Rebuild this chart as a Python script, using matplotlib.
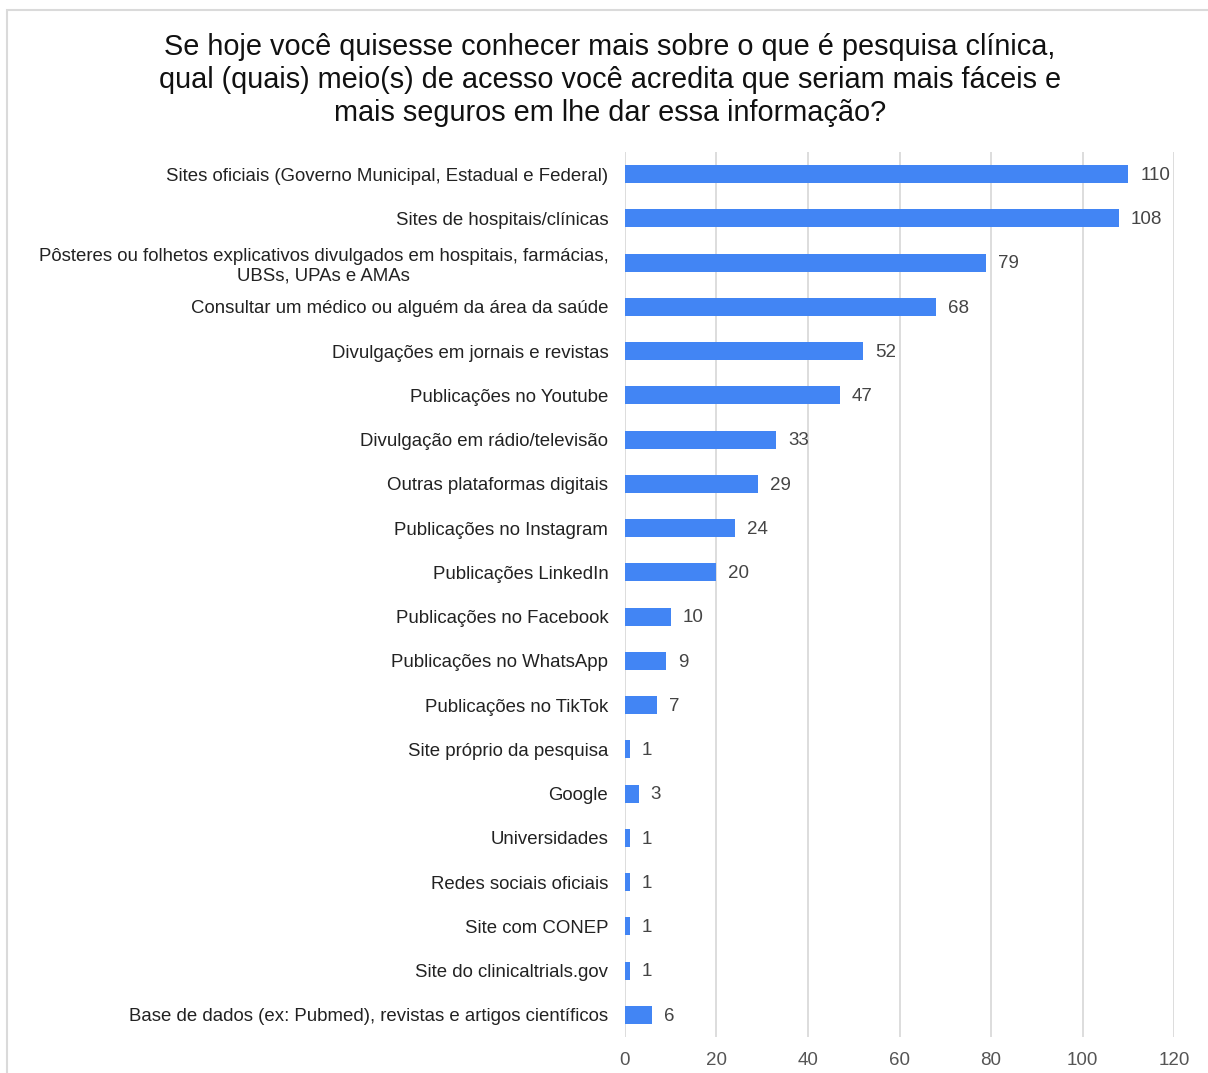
import matplotlib.pyplot as plt
from matplotlib.patches import Rectangle

plt.rcParams['font.family'] = ['Liberation Sans', 'DejaVu Sans']

titulo = ("Se hoje você quisesse conhecer mais sobre o que é pesquisa clínica,\n"
          "qual (quais) meio(s) de acesso você acredita que seriam mais fáceis e\n"
          "mais seguros em lhe dar essa informação?")

categorias = [
    "Sites oficiais (Governo Municipal, Estadual e Federal)",
    "Sites de hospitais/clínicas",
    "Pôsteres ou folhetos explicativos divulgados em hospitais, farmácias,\nUBSs, UPAs e AMAs",
    "Consultar um médico ou alguém da área da saúde",
    "Divulgações em jornais e revistas",
    "Publicações no Youtube",
    "Divulgação em rádio/televisão",
    "Outras plataformas digitais",
    "Publicações no Instagram",
    "Publicações LinkedIn",
    "Publicações no Facebook",
    "Publicações no WhatsApp",
    "Publicações no TikTok",
    "Site próprio da pesquisa",
    "Google",
    "Universidades",
    "Redes sociais oficiais",
    "Site com CONEP",
    "Site do clinicaltrials.gov",
    "Base de dados (ex: Pubmed), revistas e artigos científicos",
]
valores = [110, 108, 79, 68, 52, 47, 33, 29, 24, 20, 10, 9, 7, 1, 3, 1, 1, 1, 1, 6]
xticks = [0, 20, 40, 60, 80, 100, 120]

fig = plt.figure(figsize=(12.08, 10.73), dpi=100)
# moldura cinza clara
fig.patches.append(Rectangle((7 / 1208, -0.01), 1.0, 1 - 10 / 1073 + 0.01,
                             transform=fig.transFigure, fill=False,
                             edgecolor='#dadada', linewidth=1.5))

ax = fig.add_axes([625 / 1208, 1 - 1037 / 1073, (1174 - 625) / 1208, (1037 - 152) / 1073])
pos = list(range(len(categorias)))
ax.barh(pos, valores, height=0.41, color='#4285F4', zorder=3)
for p, v in zip(pos, valores):
    ax.text(v + 2.6, p + 0.03, str(v), va='center', ha='left', fontsize=13.5, color='#444444')

ax.set_xlim(0, 120)
ax.set_ylim(len(categorias) - 0.5, -0.5)
ax.set_xticks(xticks)
ax.set_yticks(pos)
ax.set_yticklabels(categorias, fontsize=13.4, color='#222222')
for lbl in ax.get_yticklabels():
    lbl.set_multialignment('center')
ax.tick_params(axis='y', length=0, pad=12)
ax.tick_params(axis='x', length=0, pad=11, labelsize=13.5, labelcolor='#555555')
ax.grid(axis='x', color='#dddddd', linewidth=1.4, zorder=0)
for s in ax.spines.values():
    s.set_visible(False)

fig.text(610 / 1208, 1 - 80 / 1073, titulo, ha='center', va='center',
         fontsize=20.8, color='#111111', linespacing=1.24)

fig.savefig('out.png', dpi=100)
